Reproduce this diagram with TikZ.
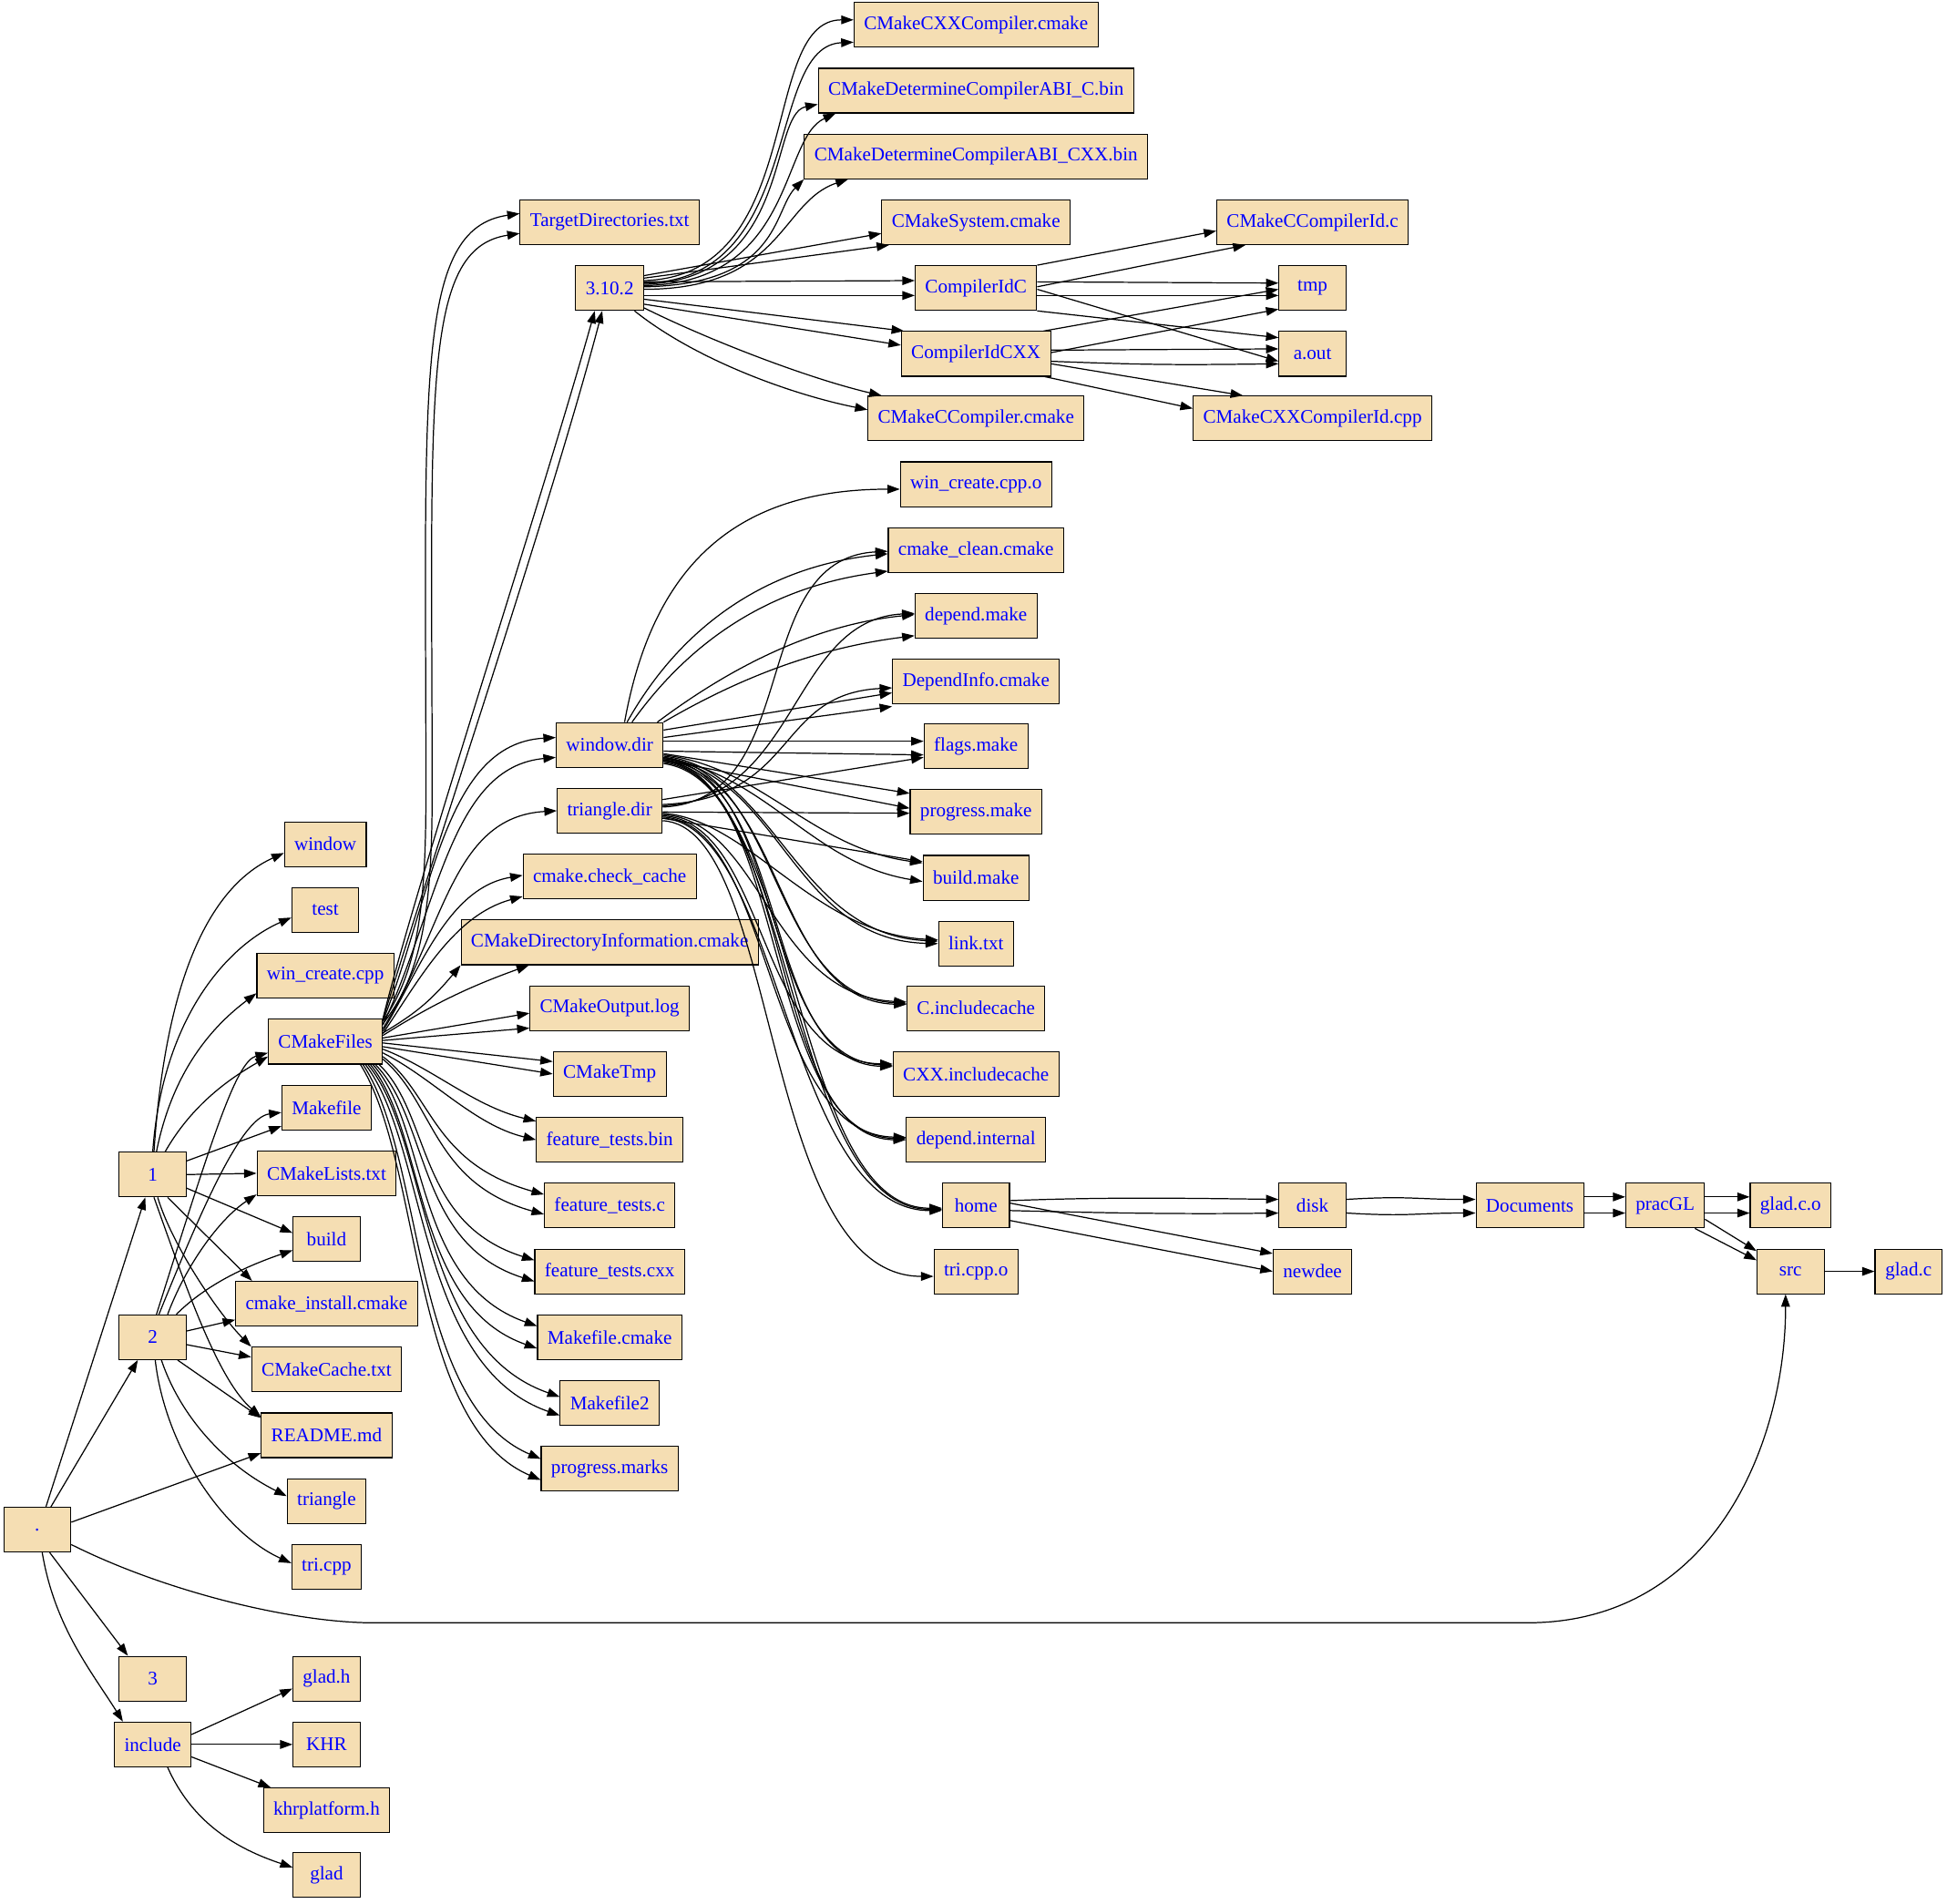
\documentclass[tikz,border=0pt]{standalone}
\usepackage{fontspec}
\setmainfont{Liberation Serif}
\usetikzlibrary{arrows.meta}
\definecolor{wheat}{RGB}{245,222,179}
\begin{document}
\begin{tikzpicture}[x=1pt,y=-1pt,
  filebox/.style={draw,line width=0.8pt,fill=wheat,text=blue,minimum width=54pt,minimum height=36pt,inner xsep=8pt,inner ysep=0pt,font=\fontsize{15.5pt}{17pt}\selectfont},
  dirarrow/.style={line width=0.9pt,-{Triangle[length=10pt,width=7pt]}}]
\useasboundingbox (0,0) rectangle (1568,1533);

\node[filebox] (dot) at (30,1232) {.};
\node[filebox] (n1) at (123,946) {1};
\node[filebox] (n2) at (123,1077) {2};
\node[filebox] (n3) at (123,1352) {3};
\node[filebox] (inc) at (123,1405) {include};

\node[filebox] (window) at (262,680) {window};
\node[filebox] (test) at (262,733) {test};
\node[filebox] (wincpp) at (262,786) {win\_create.cpp};
\node[filebox] (cmf) at (262,839) {CMakeFiles};
\node[filebox] (mkf) at (263,892) {Makefile};
\node[filebox] (cml) at (263,945) {CMakeLists.txt};
\node[filebox] (build) at (263,998) {build};
\node[filebox] (cinst) at (263,1050) {cmake\_install.cmake};
\node[filebox] (ccache) at (263,1103) {CMakeCache.txt};
\node[filebox] (readme) at (263,1156) {README.md};
\node[filebox] (tri) at (263,1209) {triangle};
\node[filebox] (tricpp) at (263,1262) {tri.cpp};
\node[filebox] (gladh) at (263,1352) {glad.h};
\node[filebox] (khr) at (263,1405) {KHR};
\node[filebox] (khrp) at (263,1458) {khrplatform.h};
\node[filebox] (glad) at (263,1510) {glad};

\node[filebox] (tdirs) at (491,179) {TargetDirectories.txt};
\node[filebox] (ver) at (491,232) {3.10.2};
\node[filebox] (wdir) at (491,600) {window.dir};
\node[filebox] (tdir) at (491,653) {triangle.dir};
\node[filebox] (chk) at (491,706) {cmake.check\_cache};
\node[filebox] (dinfo) at (491,759) {CMakeDirectoryInformation.cmake};
\node[filebox] (olog) at (491,812) {CMakeOutput.log};
\node[filebox] (ctmp) at (491,865) {CMakeTmp};
\node[filebox] (ftbin) at (491,918) {feature\_tests.bin};
\node[filebox] (ftc) at (491,971) {feature\_tests.c};
\node[filebox] (ftcxx) at (491,1024) {feature\_tests.cxx};
\node[filebox] (mkcm) at (491,1077) {Makefile.cmake};
\node[filebox] (mk2) at (491,1130) {Makefile2};
\node[filebox] (pmarks) at (491,1183) {progress.marks};

\node[filebox] (cxxcmk) at (786,20) {CMakeCXXCompiler.cmake};
\node[filebox] (abic) at (786,73) {CMakeDetermineCompilerABI\_C.bin};
\node[filebox] (abicxx) at (786,126) {CMakeDetermineCompilerABI\_CXX.bin};
\node[filebox] (csys) at (786,179) {CMakeSystem.cmake};
\node[filebox] (idc) at (786,232) {CompilerIdC};
\node[filebox] (idcxx) at (786,285) {CompilerIdCXX};
\node[filebox] (ccmk) at (786,337) {CMakeCCompiler.cmake};
\node[filebox] (wobj) at (786,390) {win\_create.cpp.o};
\node[filebox] (clean) at (786,443) {cmake\_clean.cmake};
\node[filebox] (depmk) at (786,496) {depend.make};
\node[filebox] (depinfo) at (786,549) {DependInfo.cmake};
\node[filebox] (flags) at (786,601) {flags.make};
\node[filebox] (progmk) at (786,654) {progress.make};
\node[filebox] (buildmk) at (786,707) {build.make};
\node[filebox] (link) at (786,760) {link.txt};
\node[filebox] (cinc) at (786,812) {C.includecache};
\node[filebox] (cxxinc) at (786,865) {CXX.includecache};
\node[filebox] (depint) at (786,918) {depend.internal};
\node[filebox] (home) at (786,971) {home};
\node[filebox] (triobj) at (786,1024) {tri.cpp.o};

\node[filebox] (cid) at (1057,179) {CMakeCCompilerId.c};
\node[filebox] (tmp) at (1057,232) {tmp};
\node[filebox] (aout) at (1057,285) {a.out};
\node[filebox] (cxxid) at (1057,337) {CMakeCXXCompilerId.cpp};
\node[filebox] (disk) at (1057,971) {disk};
\node[filebox] (newdee) at (1057,1024) {newdee};
\node[filebox] (docs) at (1232,971) {Documents};
\node[filebox] (pracgl) at (1341,971) {pracGL};
\node[filebox] (gladco) at (1442,971) {glad.c.o};
\node[filebox] (src) at (1442,1024) {src};
\node[filebox] (gladc) at (1537,1024) {glad.c};

\draw[dirarrow] ([xshift=7pt]dot.north) -- ([xshift=-6pt]n1.south);
\draw[dirarrow] ([xshift=11pt]dot.north) -- ([xshift=-12pt]n2.south);
\draw[dirarrow] ([yshift=6pt]dot.east) -- ([yshift=4pt]readme.south west);
\draw[dirarrow] ([xshift=10pt]dot.south) -- ([xshift=-20pt]n3.north);
\draw[dirarrow] ([xshift=4pt]dot.south) .. controls +(10,60) and +(-25,-40) .. ([xshift=-24pt]inc.north);
\draw[dirarrow] ([yshift=-12pt]dot.east) .. controls +(80,40) and +(-60,0) .. (300,1307) -- (1230,1307) .. controls +(150,0) and +(0,120) .. ([xshift=-4pt]src.south);

\draw[dirarrow] ([xshift=1pt]n1.north) .. controls +(10,-150) and +(-55,25) .. ([yshift=-7pt]window.west);
\draw[dirarrow] (n1.north) .. controls +(8,-110) and +(-50,22) .. ([yshift=-6pt]test.west);
\draw[dirarrow] ([xshift=3pt]n1.north) .. controls +(12,-60) and +(-40,30) .. ([yshift=-14pt]wincpp.west);
\draw[dirarrow] ([xshift=10pt]n1.north) .. controls +(20,-35) and +(-35,20) .. ([yshift=-12pt]cmf.west);
\draw[dirarrow] ([yshift=11pt]n1.east) -- ([yshift=-15pt]mkf.west);
\draw[dirarrow] (n1.east) -- (cml.west);
\draw[dirarrow] ([yshift=-11pt]n1.east) -- ([yshift=5pt]build.west);
\draw[dirarrow] ([xshift=12pt]n1.south) -- ([xshift=-60pt]cinst.north);
\draw[dirarrow] ([xshift=4pt]n1.south) .. controls +(12,40) and +(-25,-25) .. (ccache.north west);
\draw[dirarrow] ([xshift=1pt]n1.south) .. controls +(25,70) and +(-35,-30) .. ([yshift=15pt]readme.west);

\draw[dirarrow] ([xshift=3pt]n2.north) .. controls +(44,-139) and +(-26,7) .. ([yshift=-9pt]cmf.west);
\draw[dirarrow] ([xshift=5pt]n2.north) .. controls +(32,-79) and +(-33,4) .. ([yshift=-4pt]mkf.west);
\draw[dirarrow] ([xshift=12pt]n2.north) .. controls +(15,-40) and +(-30,20) .. ([yshift=-17pt]cml.west);
\draw[dirarrow] ([xshift=19pt]n2.north) .. controls +(25,-25) and +(-35,12) .. ([yshift=-9pt]build.west);
\draw[dirarrow] ([yshift=5pt]n2.east) -- ([yshift=-13pt]cinst.west);
\draw[dirarrow] ([yshift=-6pt]n2.east) -- ([yshift=10pt]ccache.west);
\draw[dirarrow] ([xshift=20pt]n2.south) -- ([yshift=14pt]readme.west);
\draw[dirarrow] ([xshift=7pt]n2.south) .. controls +(15,45) and +(-50,-25) .. ([yshift=4pt]tri.west);
\draw[dirarrow] ([xshift=2pt]n2.south) .. controls +(8,70) and +(-55,-25) .. ([yshift=3pt]tricpp.west);

\draw[dirarrow] ([yshift=8pt]inc.east) -- ([yshift=-8pt]gladh.west);
\draw[dirarrow] (inc.east) -- (khr.west);
\draw[dirarrow] ([yshift=-10pt]inc.east) -- ([xshift=-45pt]khrp.north);
\draw[dirarrow] ([xshift=12pt]inc.south) .. controls +(20,45) and +(-45,-15) .. ([yshift=6pt]glad.west);

\draw[dirarrow] ([yshift=-2pt]cmf.north east) .. controls +(28,-40) and +(0,90) .. (343,640) .. controls +(0,-330) and +(-85,12) .. ([yshift=7pt]tdirs.west);
\draw[dirarrow] ([yshift=-4pt]cmf.north east) .. controls +(32,-40) and +(0,90) .. (348,640) .. controls +(0,-320) and +(-80,12) .. ([yshift=-9pt]tdirs.west);
\draw[dirarrow] (cmf.north east) .. controls +(30,-120) and +(-45,160) .. ([xshift=-12pt]ver.south);
\draw[dirarrow] ([yshift=-1pt]cmf.north east) .. controls +(36,-120) and +(-42,160) .. ([xshift=-6pt]ver.south);
\draw[dirarrow] ([yshift=-2pt]cmf.north east) .. controls +(40,-100) and +(-90,5) .. ([yshift=6pt]wdir.west);
\draw[dirarrow] ([yshift=-5pt]cmf.north east) .. controls +(45,-95) and +(-85,8) .. ([yshift=-10pt]wdir.west);
\draw[dirarrow] ([yshift=-8pt]cmf.north east) .. controls +(50,-80) and +(-85,5) .. (tdir.west);
\draw[dirarrow] ([yshift=-10pt]cmf.north east) .. controls +(30,-50) and +(-60,10) .. ([yshift=1pt]chk.west);
\draw[dirarrow] ([yshift=-12pt]cmf.north east) .. controls +(30,-45) and +(-55,15) .. ([yshift=-16pt]chk.west);
\draw[dirarrow] ([yshift=7pt]cmf.east) .. controls +(25,-15) and +(-25,30) .. (dinfo.south west);
\draw[dirarrow] ([yshift=5pt]cmf.east) .. controls +(40,-25) and +(-50,18) .. ([xshift=-65pt]dinfo.south);
\draw[dirarrow] ([yshift=3pt]cmf.east) -- ([yshift=-4pt]olog.west);
\draw[dirarrow] ([yshift=1pt]cmf.east) -- ([yshift=-16pt]olog.west);
\draw[dirarrow] ([yshift=-1pt]cmf.east) -- ([yshift=10pt]ctmp.west);
\draw[dirarrow] ([yshift=-4pt]cmf.east) -- (ctmp.west);
\draw[dirarrow] ([yshift=-6pt]cmf.east) .. controls +(40,15) and +(-50,-12) .. ([yshift=15pt]ftbin.west);
\draw[dirarrow] ([yshift=-9pt]cmf.east) .. controls +(40,20) and +(-50,-12) .. (ftbin.west);
\draw[dirarrow] ([yshift=-12pt]cmf.east) .. controls +(40,30) and +(-90,-25) .. ([yshift=9pt]ftc.west);
\draw[dirarrow] ([yshift=-14pt]cmf.east) .. controls +(42,35) and +(-90,-25) .. ([yshift=-7pt]ftc.west);
\draw[dirarrow] ([xshift=-3pt]cmf.south east) .. controls +(42,40) and +(-95,-30) .. ([yshift=9pt]ftcxx.west);
\draw[dirarrow] ([xshift=-6pt]cmf.south east) .. controls +(44,45) and +(-95,-30) .. ([yshift=-8pt]ftcxx.west);
\draw[dirarrow] ([xshift=-8pt]cmf.south east) .. controls +(45,50) and +(-100,-35) .. ([yshift=9pt]mkcm.west);
\draw[dirarrow] ([xshift=-10pt]cmf.south east) .. controls +(45,55) and +(-100,-35) .. ([yshift=-9pt]mkcm.west);
\draw[dirarrow] ([xshift=-12pt]cmf.south east) .. controls +(50,60) and +(-115,-40) .. ([yshift=5pt]mk2.west);
\draw[dirarrow] ([xshift=-14pt]cmf.south east) .. controls +(50,65) and +(-115,-40) .. ([yshift=-10pt]mk2.west);
\draw[dirarrow] ([xshift=-16pt]cmf.south east) .. controls +(50,75) and +(-105,-45) .. ([yshift=8pt]pmarks.west);
\draw[dirarrow] ([xshift=-18pt]cmf.south east) .. controls +(50,80) and +(-105,-45) .. ([yshift=-9pt]pmarks.west);

\draw[dirarrow] ([yshift=6pt]ver.east) .. controls +(132,-4) and +(-77,0) .. ([yshift=4pt]cxxcmk.west);
\draw[dirarrow] ([yshift=4pt]ver.east) .. controls +(130,-2) and +(-72,3) .. ([yshift=-14pt]cxxcmk.west);
\draw[dirarrow] ([yshift=3pt]ver.east) .. controls +(120,-4) and +(-40,8) .. ([yshift=-11pt]abic.west);
\draw[dirarrow] ([yshift=2pt]ver.east) .. controls +(122,-2) and +(-45,20) .. ([xshift=-113pt]abic.south);
\draw[dirarrow] ([yshift=1pt]ver.east) .. controls +(110,-2) and +(-25,25) .. (abicxx.south west);
\draw[dirarrow] ([yshift=-1pt]ver.east) .. controls +(112,0) and +(-55,18) .. ([xshift=-103pt]abicxx.south);
\draw[dirarrow] ([yshift=10pt]ver.east) -- ([yshift=-9pt]csys.west);
\draw[dirarrow] ([yshift=8pt]ver.east) -- ([xshift=-70pt]csys.south);
\draw[dirarrow] ([yshift=5pt]ver.east) -- ([yshift=6pt]idc.west);
\draw[dirarrow] ([yshift=-6pt]ver.east) -- ([yshift=-6pt]idc.west);
\draw[dirarrow] ([yshift=-9pt]ver.east) -- ([xshift=-58pt]idcxx.north);
\draw[dirarrow] ([yshift=-13pt]ver.east) -- ([yshift=7pt]idcxx.west);
\draw[dirarrow] ([yshift=-16pt]ver.east) .. controls +(50,25) and +(-60,-14) .. ([xshift=-76pt]ccmk.north);
\draw[dirarrow] ([xshift=20pt]ver.south) .. controls +(50,40) and +(-60,-12) .. ([yshift=7pt]ccmk.west);

\draw[dirarrow] (idc.north east) -- ([yshift=-7pt]cid.west);
\draw[dirarrow] ([yshift=1pt]idc.east) -- ([xshift=-54pt]cid.south);
\draw[dirarrow] ([yshift=5pt]idc.east) -- ([yshift=4pt]tmp.west);
\draw[dirarrow] ([yshift=-6pt]idc.east) -- ([yshift=-6pt]tmp.west);
\draw[dirarrow] ([yshift=-1pt]idc.east) -- ([yshift=-6pt]aout.west);
\draw[dirarrow] (idc.south east) -- ([yshift=13pt]aout.west);
\draw[dirarrow] ([xshift=-6pt]idcxx.north east) -- ([yshift=-1pt]tmp.west);
\draw[dirarrow] ([yshift=1pt]idcxx.east) -- ([yshift=-17pt]tmp.west);
\draw[dirarrow] ([yshift=3pt]idcxx.east) -- ([yshift=4pt]aout.west);
\draw[dirarrow] ([yshift=-6pt]idcxx.east) .. controls +(80,3) and +(-80,1) .. ([yshift=-8pt]aout.west);
\draw[dirarrow] ([yshift=-8pt]idcxx.east) -- ([xshift=-56pt]cxxid.north);
\draw[dirarrow] ([xshift=-5pt]idcxx.south east) -- ([yshift=8pt]cxxid.west);

\draw[dirarrow] ([xshift=12pt]wdir.north) .. controls +(22,-122) and +(-136,0) .. ([yshift=-4pt]wobj.west);
\draw[dirarrow] ([xshift=14pt]wdir.north) .. controls +(45,-80) and +(-95,10) .. ([yshift=-3pt]clean.west);
\draw[dirarrow] ([xshift=18pt]wdir.north) .. controls +(50,-70) and +(-90,12) .. ([yshift=-17pt]clean.west);
\draw[dirarrow] ([yshift=3pt]tdir.east) .. controls +(115,-5) and +(-115,6) .. ([yshift=-1pt]clean.west);
\draw[dirarrow] ([xshift=-5pt]wdir.north east) .. controls +(60,-45) and +(-80,8) .. ([yshift=1pt]depmk.west);
\draw[dirarrow] (wdir.north east) .. controls +(60,-35) and +(-80,10) .. ([yshift=-16pt]depmk.west);
\draw[dirarrow] ([yshift=4pt]tdir.east) .. controls +(110,-5) and +(-100,5) .. ([yshift=2pt]depmk.west);
\draw[dirarrow] ([yshift=12pt]wdir.east) -- ([yshift=-9pt]depinfo.west);
\draw[dirarrow] ([yshift=6pt]wdir.east) -- ([yshift=-20pt]depinfo.west);
\draw[dirarrow] ([yshift=5pt]tdir.east) .. controls +(110,-5) and +(-95,5) .. ([yshift=-5pt]depinfo.west);
\draw[dirarrow] ([yshift=3pt]wdir.east) -- ([yshift=4pt]flags.west);
\draw[dirarrow] ([yshift=-5pt]wdir.east) -- ([yshift=-7pt]flags.west);
\draw[dirarrow] ([yshift=9pt]tdir.east) -- ([yshift=-9pt]flags.west);
\draw[dirarrow] ([yshift=-7pt]wdir.east) -- ([yshift=15pt]progmk.west);
\draw[dirarrow] ([yshift=-12pt]wdir.east) -- ([yshift=3pt]progmk.west);
\draw[dirarrow] ([yshift=-1pt]tdir.east) -- ([yshift=-1pt]progmk.west);
\draw[dirarrow] ([yshift=-8pt]wdir.east) .. controls +(80,10) and +(-90,-12) .. ([yshift=12pt]buildmk.west);
\draw[dirarrow] ([yshift=-10pt]wdir.east) .. controls +(85,15) and +(-90,-15) .. ([yshift=-3pt]buildmk.west);
\draw[dirarrow] ([yshift=-6pt]tdir.east) -- ([yshift=13pt]buildmk.west);
\draw[dirarrow] ([yshift=-9pt]wdir.east) .. controls +(90,10) and +(-115,-5) .. ([yshift=2pt]link.west);
\draw[dirarrow] ([yshift=-11pt]wdir.east) .. controls +(94,12) and +(-118,-3) .. (link.west);
\draw[dirarrow] ([yshift=-2pt]tdir.east) .. controls +(70,5) and +(-100,-5) .. ([yshift=3pt]link.west);
\draw[dirarrow] ([yshift=-10pt]wdir.east) .. controls +(95,10) and +(-110,-5) .. ([yshift=4pt]cinc.west);
\draw[dirarrow] ([yshift=-12pt]wdir.east) .. controls +(99,12) and +(-108,-3) .. ([yshift=3pt]cinc.west);
\draw[dirarrow] ([yshift=-3pt]tdir.east) .. controls +(80,5) and +(-110,-5) .. ([yshift=5pt]cinc.west);
\draw[dirarrow] ([yshift=-11pt]wdir.east) .. controls +(100,10) and +(-110,-5) .. ([yshift=7pt]cxxinc.west);
\draw[dirarrow] ([yshift=-13pt]wdir.east) .. controls +(104,12) and +(-108,-3) .. ([yshift=6pt]cxxinc.west);
\draw[dirarrow] ([yshift=-4pt]tdir.east) .. controls +(85,5) and +(-110,-2) .. ([yshift=8pt]cxxinc.west);
\draw[dirarrow] ([yshift=-12pt]wdir.east) .. controls +(100,12) and +(-115,-2) .. ([yshift=1pt]depint.west);
\draw[dirarrow] ([yshift=-14pt]wdir.east) .. controls +(105,14) and +(-112,-1) .. (depint.west);
\draw[dirarrow] ([yshift=-5pt]tdir.east) .. controls +(90,5) and +(-115,-2) .. ([yshift=2pt]depint.west);
\draw[dirarrow] ([yshift=-13pt]wdir.east) .. controls +(105,12) and +(-125,0) .. ([yshift=-3pt]home.west);
\draw[dirarrow] ([yshift=-15pt]wdir.east) .. controls +(110,14) and +(-122,1) .. ([yshift=-2pt]home.west);
\draw[dirarrow] ([yshift=-6pt]tdir.east) .. controls +(95,5) and +(-125,0) .. ([yshift=-4pt]home.west);
\draw[dirarrow] ([yshift=-8pt]tdir.east) .. controls +(95,5) and +(-140,0) .. ([yshift=-4pt]triobj.west);

\draw[dirarrow] ([yshift=4pt]home.east) .. controls +(80,-3) and +(-80,-1) .. ([yshift=5pt]disk.west);
\draw[dirarrow] ([yshift=-4pt]home.east) .. controls +(80,2) and +(-80,1) .. ([yshift=-6pt]disk.west);
\draw[dirarrow] ([yshift=2pt]home.east) -- ([yshift=-4pt]newdee.north west);
\draw[dirarrow] ([yshift=-12pt]home.east) -- (newdee.west);
\draw[dirarrow] ([yshift=5pt]disk.east) .. controls +(50,-3) and +(-50,0) .. ([yshift=5pt]docs.west);
\draw[dirarrow] ([yshift=-6pt]disk.east) .. controls +(50,3) and +(-50,0) .. ([yshift=-6pt]docs.west);
\draw[dirarrow] ([yshift=7pt]docs.east) -- ([yshift=7pt]pracgl.west);
\draw[dirarrow] ([yshift=-6pt]docs.east) -- ([yshift=-6pt]pracgl.west);
\draw[dirarrow] ([yshift=7pt]pracgl.east) -- ([yshift=7pt]gladco.west);
\draw[dirarrow] ([yshift=-6pt]pracgl.east) -- ([yshift=-6pt]gladco.west);
\draw[dirarrow] ([yshift=-11pt]pracgl.east) -- ([yshift=-2pt]src.north west);
\draw[dirarrow] ([xshift=24pt]pracgl.south) -- ([yshift=9pt]src.west);
\draw[dirarrow] (src.east) -- (gladc.west);
\end{tikzpicture}
\end{document}
